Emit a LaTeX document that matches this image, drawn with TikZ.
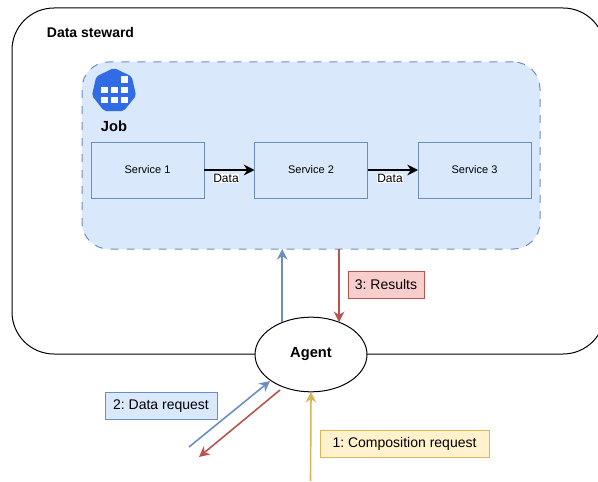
\documentclass[tikz,border=0pt]{standalone}
\usepackage{fontspec}
\setmainfont{Liberation Sans}
\frenchspacing
\usetikzlibrary{arrows.meta}
\usetikzlibrary{shapes.geometric}

\definecolor{bluefill}{HTML}{DAE8FC}
\definecolor{blueline}{HTML}{6C8EBF}
\definecolor{redfill}{HTML}{F8CECC}
\definecolor{redline}{HTML}{B85450}
\definecolor{yellowfill}{HTML}{FFF2CC}
\definecolor{yellowline}{HTML}{D6B656}
\definecolor{iconblue}{HTML}{326CE5}

\tikzset{
    box/.style={draw, inner sep=0pt, outer sep=0pt, font=\fontsize{10.5}{12}\selectfont},
    servicebox/.style={box, draw=blueline, fill=bluefill, minimum width=84.75pt, minimum height=42pt, font=\fontsize{8.25}{10}\selectfont},
    datalabel/.style={fill=white, inner sep=0.5pt, font=\fontsize{9}{11}\selectfont},
    boldlabel/.style={inner sep=0pt, font=\fontsize{11}{13}\selectfont\bfseries},
    flow/.style={-{Stealth[length=8pt, width=8pt]}, line width=1.2pt},
    square/.style={fill=white, inner sep=0pt, minimum size=5.2pt}
}

\begin{document}
\begin{tikzpicture}[x=0.75pt, y=-0.75pt]
    \useasboundingbox (0,0) rectangle (598,481);
    \clip (0,0) rectangle (598,481);

    \node [draw, inner sep=0pt, outer sep=0pt, rounded corners=31.5pt, line width=0.75pt, minimum width=444.75pt, minimum height=259.5pt] (steward) at (308.5,181) {};
    \node [boldlabel, font=\fontsize{10.5}{13}\selectfont\bfseries] (stewardlabel) at (90.5,32.5) {Data steward};

    \node [draw=blueline, fill=bluefill, dashed, dash pattern=on 6pt off 6pt, inner sep=0pt, outer sep=0pt, rounded corners=20pt, line width=0.75pt, minimum width=343.5pt, minimum height=140.25pt] (job) at (311,155.5) {};

    % icon
    \node [regular polygon, regular polygon sides=7, fill=iconblue, inner sep=0pt, minimum size=34pt, rounded corners=1.5pt] (icon) at (114,90.6) {};
    \foreach \x in {104.3,114.3,124.3}
        \foreach \y in {90,100}
            \node [square] at (\x,\y) {};
    \node [square] (topsquare) at (124.3,79.5) {};
    \node [boldlabel] (joblabel) at (114,126.5) {Job};

    \node [servicebox] (service1) at (147.5,170) {Service 1};
    \node [servicebox] (service2) at (311,170) {Service 2};
    \node [servicebox] (service3) at (474.5,170) {Service 3};

    \draw [flow, line width=1.5pt, black] (service1) -- (service2);
    \draw [flow, line width=1.5pt, black] (service2) -- (service3);
    \node [datalabel] (data1) at (226,178.5) {Data};
    \node [datalabel] (data2) at (390,178.5) {Data};

    \node [draw, fill=white, ellipse, inner sep=0pt, outer sep=0pt, line width=0.75pt, minimum width=84pt, minimum height=56pt] (agent) at (311,354.5) {};
    \node [boldlabel] (agentlabel) at (agent) {Agent};

    \coordinate (requeststart) at (310.5,481);
    \coordinate (datastart) at (189,447);
    \coordinate (dataend) at (270,381);
    \coordinate (replystart) at (280,390);
    \coordinate (replyend) at (199,457);

    \draw [flow, blueline] (agent.132.5) -- (agent.132.5 |- job.south);
    \draw [flow, redline] (agent.49 |- job.south) -- (agent.49);
    \draw [flow, yellowline] (requeststart) -- (agent.south);
    \draw [flow, blueline] (datastart) -- (dataend);
    \draw [flow, redline] (replystart) -- (replyend);

    \node [box, draw=redline, fill=redfill, minimum width=57pt, minimum height=20.25pt] (results) at (386,284.5) {3: Results};
    \node [box, draw=blueline, fill=bluefill, minimum width=84pt, minimum height=20.25pt] (datarequest) at (161,406) {2: Data request};
    \node [box, draw=yellowline, fill=yellowfill, minimum width=126.75pt, minimum height=20.25pt] (composition) at (404.5,443.5) {1: Composition request};
\end{tikzpicture}
\end{document}
